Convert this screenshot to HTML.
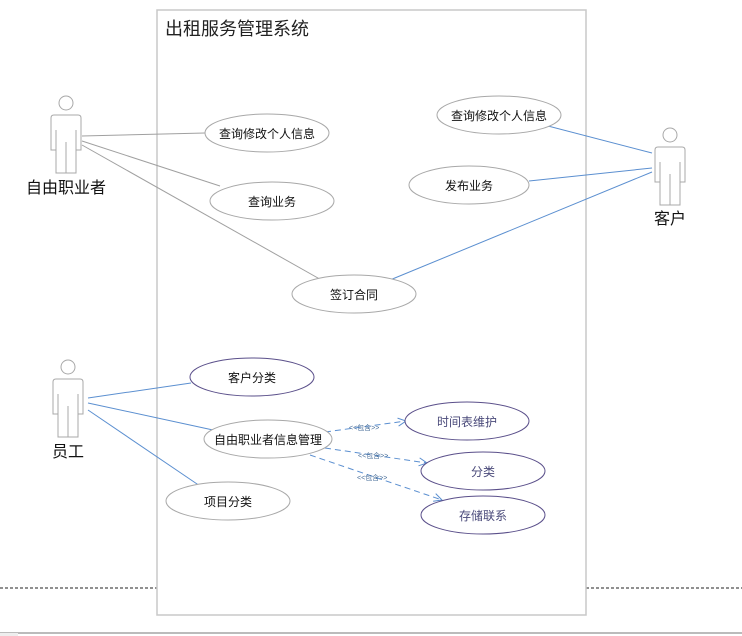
<!DOCTYPE html>
<html><head><meta charset="utf-8"><style>
html,body{margin:0;padding:0;background:#fff;width:742px;height:636px;overflow:hidden}
svg{display:block}
text{font-family:"Liberation Sans","Noto Sans CJK SC",sans-serif}
</style></head><body>
<svg width="742" height="636" viewBox="0 0 742 636">
<defs>
<marker id="ar" markerWidth="10" markerHeight="10" refX="9" refY="5" orient="auto" markerUnits="userSpaceOnUse"><path d="M1,1 L9,5 L1,9" fill="none" stroke="#5b8fd0" stroke-width="1"/></marker>
<g id="actor" fill="#fff" stroke="#a8a8a8" stroke-width="1">
<circle cx="0" cy="-12" r="7"/>
<path d="M-12,0 L12,0 Q15,0 15,3 L15,35 L10,35 L10,58 L-10,58 L-10,35 L-15,35 L-15,3 Q-15,0 -12,0 Z"/>
<path d="M0,27 L0,58 M-10,15 L-10,35 M10,15 L10,35"/>
</g>
</defs>
<line x1="0" y1="588" x2="157" y2="588" stroke="#222" stroke-dasharray="3,2"/>
<line x1="586" y1="588" x2="742" y2="588" stroke="#222" stroke-dasharray="3,2"/>
<rect x="157" y="10" width="429" height="605" fill="#fff" stroke="#c8c8c8" stroke-width="1.5"/>
<line x1="0" y1="633" x2="742" y2="633" stroke="#bbb" stroke-width="2"/>
<rect x="0" y="633" width="18" height="3" fill="#eee"/>
<text x="165" y="35" font-size="18" fill="#222">出租服务管理系统</text>

<g stroke="#a0a0a0" stroke-width="1">
<line x1="82" y1="136" x2="205" y2="133"/>
<line x1="82" y1="141" x2="220" y2="186"/>
<line x1="82" y1="145" x2="325" y2="282"/>
</g>
<g stroke="#5b8fd0" stroke-width="1">
<line x1="652" y1="153" x2="548" y2="126"/>
<line x1="652" y1="168" x2="529" y2="181"/>
<line x1="652" y1="172" x2="390" y2="280"/>
<line x1="88" y1="398" x2="191" y2="383"/>
<line x1="88" y1="403" x2="213" y2="430"/>
<line x1="88" y1="410" x2="200" y2="486"/>
</g>
<g stroke="#5b8fd0" stroke-width="1" stroke-dasharray="6,4" fill="none" marker-end="url(#ar)">
<line x1="325" y1="432" x2="406" y2="421"/>
<line x1="325" y1="448" x2="427" y2="463"/>
<line x1="310" y1="455" x2="442" y2="500"/>
</g>
<g font-size="7" fill="#4a6f9a">
<text x="349" y="430">&lt;&lt;包含&gt;&gt;</text>
<text x="358" y="458">&lt;&lt;包含&gt;&gt;</text>
<text x="357" y="480">&lt;&lt;包含&gt;&gt;</text>
</g>

<use href="#actor" x="66" y="115"/>
<use href="#actor" x="68" y="379"/>
<use href="#actor" x="670" y="147"/>
<g font-size="16" fill="#111" text-anchor="middle">
<text x="66" y="193">自由职业者</text>
<text x="68" y="457">员工</text>
<text x="670" y="224">客户</text>
</g>

<g fill="#fff" stroke="#a8a8a8" stroke-width="1">
<ellipse cx="267" cy="133" rx="62" ry="19"/>
<ellipse cx="272" cy="201" rx="62" ry="19"/>
<ellipse cx="354" cy="294" rx="62" ry="19"/>
<ellipse cx="499" cy="115" rx="62" ry="19"/>
<ellipse cx="469" cy="185" rx="60" ry="19"/>
<ellipse cx="268" cy="439" rx="64" ry="19"/>
<ellipse cx="228" cy="501" rx="62" ry="19"/>
</g>
<g fill="#fff" stroke="#5a4f8a" stroke-width="1">
<ellipse cx="252" cy="377" rx="62" ry="19"/>
<ellipse cx="467" cy="421" rx="62" ry="19"/>
<ellipse cx="483" cy="471" rx="62" ry="19"/>
<ellipse cx="483" cy="515" rx="62" ry="19"/>
</g>
<g font-size="12" fill="#111" text-anchor="middle">
<text x="267" y="138">查询修改个人信息</text>
<text x="272" y="206">查询业务</text>
<text x="354" y="299">签订合同</text>
<text x="499" y="120">查询修改个人信息</text>
<text x="469" y="190">发布业务</text>
<text x="252" y="382">客户分类</text>
<text x="268" y="444">自由职业者信息管理</text>
<text x="228" y="506">项目分类</text>
</g>
<g font-size="12" fill="#4a4a7a" text-anchor="middle">
<text x="467" y="426">时间表维护</text>
<text x="483" y="476">分类</text>
<text x="483" y="520">存储联系</text>
</g>
</svg>
</body></html>
